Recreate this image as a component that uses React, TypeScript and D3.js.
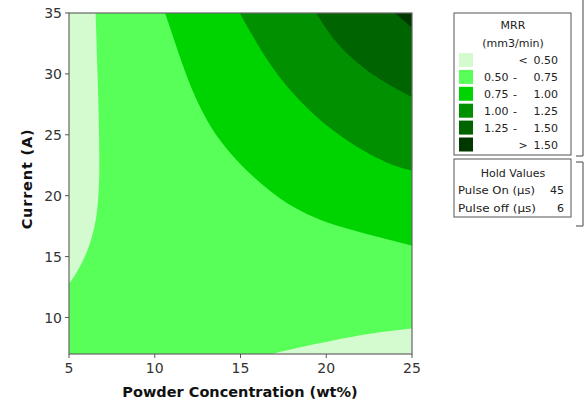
import { useMemo } from 'react';
import * as d3 from 'd3';

// contour boundaries, [powder wt%, current A]
const lowLeft = [[6.55, 35], [6.67, 30], [6.76, 25], [6.78, 21.5], [6.7, 19.6], [6.6, 18.2], [6.4, 16.9], [6.1, 15.5], [5.62, 14.1], [5.14, 13.0], [5, 12.8]];
const lowBottomRight = [[16.8, 7], [18.45, 7.55], [20.4, 8.1], [22.34, 8.65], [25, 9.1]];
const c075 = [[10.6, 35], [11.2, 32.5], [11.8, 30.0], [12.5, 27.6], [13.3, 25.5], [14.2, 23.8], [15.3, 22.1], [16.6, 20.5], [18.06, 19.0], [19.6, 18.0], [21.4, 17.2], [23.3, 16.5], [25, 15.9]];
const c100 = [[14.95, 35], [15.9, 32.6], [16.9, 30.4], [17.9, 28.6], [19.0, 27.0], [20.4, 25.3], [22.1, 23.7], [23.6, 22.6], [25, 22.05]];
const c125 = [[19.4, 35], [20.5, 32.6], [21.7, 31.0], [23.2, 29.4], [25, 28.1]];
const c150 = [[24.0, 35], [24.5, 34.4], [25, 33.8]];

const xTicks = [5, 10, 15, 20, 25];
const yTicks = [10, 15, 20, 25, 30, 35];

const levelColors = ['#d4fbd0', '#59ff59', '#00d400', '#009000', '#006400', '#003800'];
const legendFrom = ['', '0.50', '0.75', '1.00', '1.25', ''];
const legendSep = ['<', '-', '-', '-', '-', '>'];
const legendTo = ['0.50', '0.75', '1.00', '1.25', '1.50', '1.50'];

const holdNames = ['Pulse On (µs)', 'Pulse off (µs)'];
const holdValues = ['45', '6'];

const font = '"DejaVu Sans", Verdana, sans-serif';

export default function App() {
  const width = 587;
  const height = 406;
  const left = 69, right = 412, top = 13, bottom = 354;

  const x = d3.scaleLinear().domain([5, 25]).range([left, right]);
  const y = d3.scaleLinear().domain([7, 35]).range([bottom, top]);

  const paths = useMemo(() => {
    const line = d3.line<number[]>()
      .x(d => x(d[0]))
      .y(d => y(d[1]))
      .curve(d3.curveBasis);
    const region = (pts: number[][], corners: number[][]) =>
      line(pts) + corners.map(c => `L${x(c[0])},${y(c[1])}`).join('') + 'Z';
    return [
      { d: region(lowLeft, [[5, 35]]), fill: levelColors[0] },
      { d: region(lowBottomRight, [[25, 7]]), fill: levelColors[0] },
      { d: region(c075, [[25, 35]]), fill: levelColors[2] },
      { d: region(c100, [[25, 35]]), fill: levelColors[3] },
      { d: region(c125, [[25, 35]]), fill: levelColors[4] },
      { d: region(c150, [[25, 35]]), fill: levelColors[5] },
    ];
  }, []);

  const lx = 454, lw = 117;
  const lfs = 11;

  return (
    <div style={{ position: 'fixed', left: 0, top: 0 }}>
      <svg width={width} height={height} style={{ display: 'block', background: '#fff' }}>
        <defs>
          <clipPath id="plot">
            <rect x={left} y={top} width={right - left} height={bottom - top} />
          </clipPath>
        </defs>
        <g clipPath="url(#plot)">
          <rect x={left} y={top} width={right - left} height={bottom - top} fill={levelColors[1]} />
          {paths.map((p, i) => (
            <path key={i} d={p.d} fill={p.fill} />
          ))}
        </g>
        <rect x={left} y={top} width={right - left} height={bottom - top} fill="none" stroke="#666" strokeWidth={1.2} />

        {/* X axis */}
        {xTicks.map(t => (
          <g key={`x${t}`} transform={`translate(${x(t)},${bottom})`}>
            <line y1={0} y2={4} stroke="#555" />
            <text y={19} textAnchor="middle" fontSize={14} fontFamily={font} fill="#333">{t}</text>
          </g>
        ))}
        <text x={240} y={397} textAnchor="middle" fontSize={14.5} fontWeight="bold" fontFamily={font} fill="#111">
          Powder Concentration (wt%)
        </text>

        {/* Y axis */}
        {yTicks.map(t => (
          <g key={`y${t}`} transform={`translate(${left},${y(t)})`}>
            <line x1={-4} x2={0} stroke="#555" />
            <text x={-7} dy="0.36em" textAnchor="end" fontSize={14} fontFamily={font} fill="#333">{t}</text>
          </g>
        ))}
        <text transform={`translate(32,${179}) rotate(-90)`} textAnchor="middle" fontSize={14.5} fontWeight="bold" fontFamily={font} fill="#111" letterSpacing={0.8}>
          Current (A)
        </text>

        {/* Legend */}
        <rect x={lx} y={13} width={lw} height={142} fill="#fff" stroke="#555" />
        <text x={513} y={29} textAnchor="middle" fontSize={lfs} fontFamily={font} fill="#222">MRR</text>
        <text x={513} y={47} textAnchor="middle" fontSize={lfs} fontFamily={font} fill="#222">(mm3/min)</text>
        {levelColors.map((c, i) => {
          const cy = 60 + i * 16.9;
          return (
            <g key={`lg${i}`}>
              <rect x={459} y={cy - 7} width={14} height={14} fill={c} />
              <text x={484} y={cy + 4} fontSize={lfs} fontFamily={font} fill="#222">{legendFrom[i]}</text>
              <text x={legendFrom[i] ? 515 : 523} y={cy + 4} textAnchor="middle" fontSize={lfs} fontFamily={font} fill="#222">{legendSep[i]}</text>
              <text x={558} y={cy + 4} textAnchor="end" fontSize={lfs} fontFamily={font} fill="#222">{legendTo[i]}</text>
            </g>
          );
        })}

        <rect x={lx} y={159} width={lw} height={58} fill="#fff" stroke="#555" />
        <text x={513} y={177} textAnchor="middle" fontSize={lfs} fontFamily={font} fill="#222">Hold Values</text>
        {holdNames.map((n, i) => (
          <g key={`h${i}`}>
            <text x={458} y={194 + i * 18} fontSize={lfs} fontFamily={font} fill="#222" textLength={i === 0 ? 77 : 78} lengthAdjust="spacingAndGlyphs">{n}</text>
            <text x={564} y={194 + i * 18} textAnchor="end" fontSize={lfs} fontFamily={font} fill="#222">{holdValues[i]}</text>
          </g>
        ))}

        {/* brackets */}
        <path d="M583,0V156H576" fill="none" stroke="#444" />
        <path d="M576,162H583V226H576" fill="none" stroke="#444" />
      </svg>
    </div>
  );
}
